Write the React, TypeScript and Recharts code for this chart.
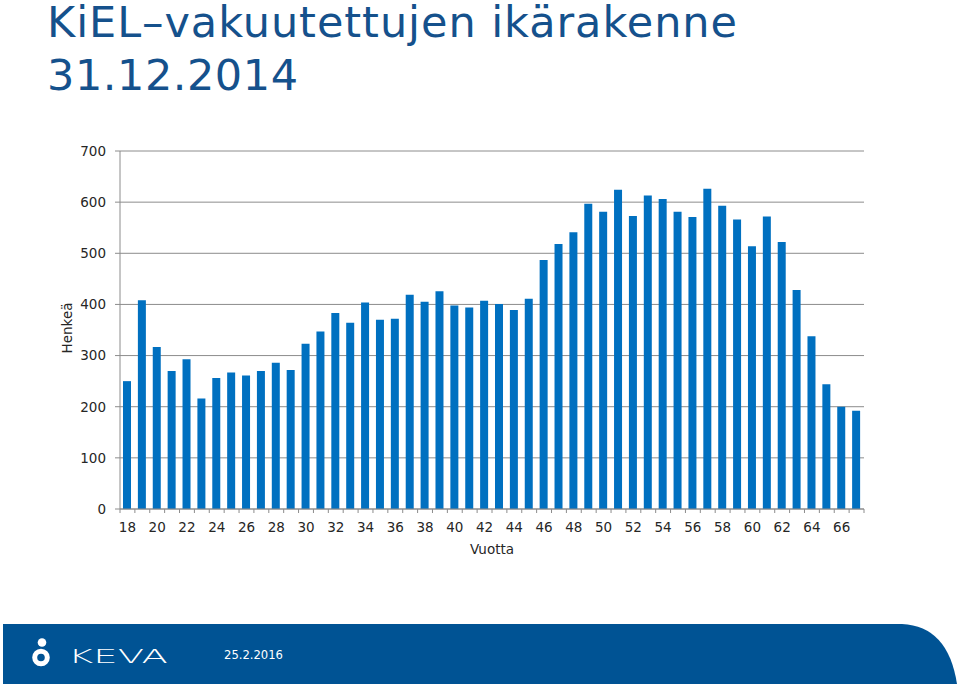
import React from 'react'
import { BarChart, Bar, XAxis, YAxis, CartesianGrid } from 'recharts'

const ages = [
  18, 19, 20, 21, 22, 23, 24, 25, 26, 27, 28, 29, 30, 31, 32, 33, 34,
  35, 36, 37, 38, 39, 40, 41, 42, 43, 44, 45, 46, 47, 48, 49, 50, 51,
  52, 53, 54, 55, 56, 57, 58, 59, 60, 61, 62, 63, 64, 65, 66, 67,
]
const henkea = [
  250, 408, 317, 270, 293, 216, 256, 267, 261, 270, 286, 272, 323, 347, 383, 364, 404,
  370, 372, 419, 405, 426, 398, 394, 407, 401, 389, 411, 487, 518, 541, 597, 581, 624,
  573, 613, 606, 581, 571, 626, 593, 566, 514, 572, 522, 428, 338, 244, 200, 192,
]
const yTicks = [0, 100, 200, 300, 400, 500, 600, 700]

const data = ages.map((a, i) => ({ ika: a, n: henkea[i] }))

const W = 959
const H = 684
const PLOT_L = 120
const PLOT_R = 864
const HALF_BAND = (PLOT_R - PLOT_L) / ages.length / 2
const GRID = '#8c8c8c'
const TXT = '#262626'
const FONT = '"DejaVu Sans", Verdana, sans-serif'
const TITLE = '#15518c'

function AgeTick(props: any) {
  const { x, y, payload, index } = props
  return (
    <g>
      <line x1={x - HALF_BAND} x2={x - HALF_BAND} y1={y} y2={y + 4} stroke={GRID} />
      {index === ages.length - 1 && (
        <line x1={x + HALF_BAND} x2={x + HALF_BAND} y1={y} y2={y + 4} stroke={GRID} />
      )}
      {index % 2 === 0 && (
        <text x={x} y={y + 23} textAnchor="middle" fontSize={13.5} fill={TXT} fontFamily={FONT}>
          {payload.value}
        </text>
      )}
    </g>
  )
}

export default function App() {
  return (
    <div style={{ position: 'absolute', left: 0, top: 0, width: W, height: H, background: '#fff', overflow: 'hidden' }}>
      <svg width={W} height={H} style={{ position: 'absolute', left: 0, top: 0 }}>
        <text x={47} y={37} fontSize={43} fill={TITLE} fontFamily={FONT} textLength={690} lengthAdjust="spacing">
          KiEL–vakuutettujen ikärakenne
        </text>
        <text x={47} y={90} fontSize={43} fill={TITLE} fontFamily={FONT} textLength={251} lengthAdjust="spacing">
          31.12.2014
        </text>
        <path d="M3,624 L902,624 Q948,626 957,684 L3,684 Z" fill="#005394" />
        <circle cx={42} cy={642.5} r={4.3} fill="#fff" />
        <circle cx={41} cy={657.5} r={6.3} fill="none" stroke="#fff" strokeWidth={5} />
        <text x={68} y={663} fontSize={20} fill="#fff" fontFamily={FONT} fontWeight={200} textLength={100} lengthAdjust="spacingAndGlyphs">
          KEVA
        </text>
        <text x={224} y={659} fontSize={12} fill="#fff" fontFamily={FONT} textLength={59} lengthAdjust="spacingAndGlyphs">
          25.2.2016
        </text>
      </svg>
      <div style={{ position: 'absolute', left: 0, top: 0 }}>
        <BarChart
          width={W}
          height={600}
          data={data}
          margin={{ top: 151, right: W - PLOT_R, bottom: 46, left: 60 }}
        >
          <CartesianGrid vertical={false} stroke={GRID} strokeWidth={1} />
          <XAxis
            dataKey="ika"
            interval={0}
            height={45}
            tickSize={0}
            tickMargin={0}
            tickLine={false}
            axisLine={{ stroke: GRID }}
            tick={<AgeTick />}
            label={{ value: 'Vuotta', position: 'insideBottom', offset: 0, fontSize: 13.5, fill: TXT, fontFamily: FONT }}
          />
          <YAxis
            width={60}
            domain={[0, 700]}
            ticks={yTicks}
            interval={0}
            tickSize={5}
            tickMargin={9}
            axisLine={{ stroke: GRID }}
            tickLine={{ stroke: GRID }}
            tick={{ fontSize: 13.5, fill: TXT, fontFamily: FONT }}
            label={{
              content: () => (
                <text x={72} y={328} transform="rotate(-90 72 328)" textAnchor="middle" fontSize={13.5} fill={TXT} fontFamily={FONT}>
                  Henkeä
                </text>
              ),
            }}
          />
          <Bar dataKey="n" fill="#0070c0" barSize={8} isAnimationActive={false} />
        </BarChart>
      </div>
    </div>
  )
}
